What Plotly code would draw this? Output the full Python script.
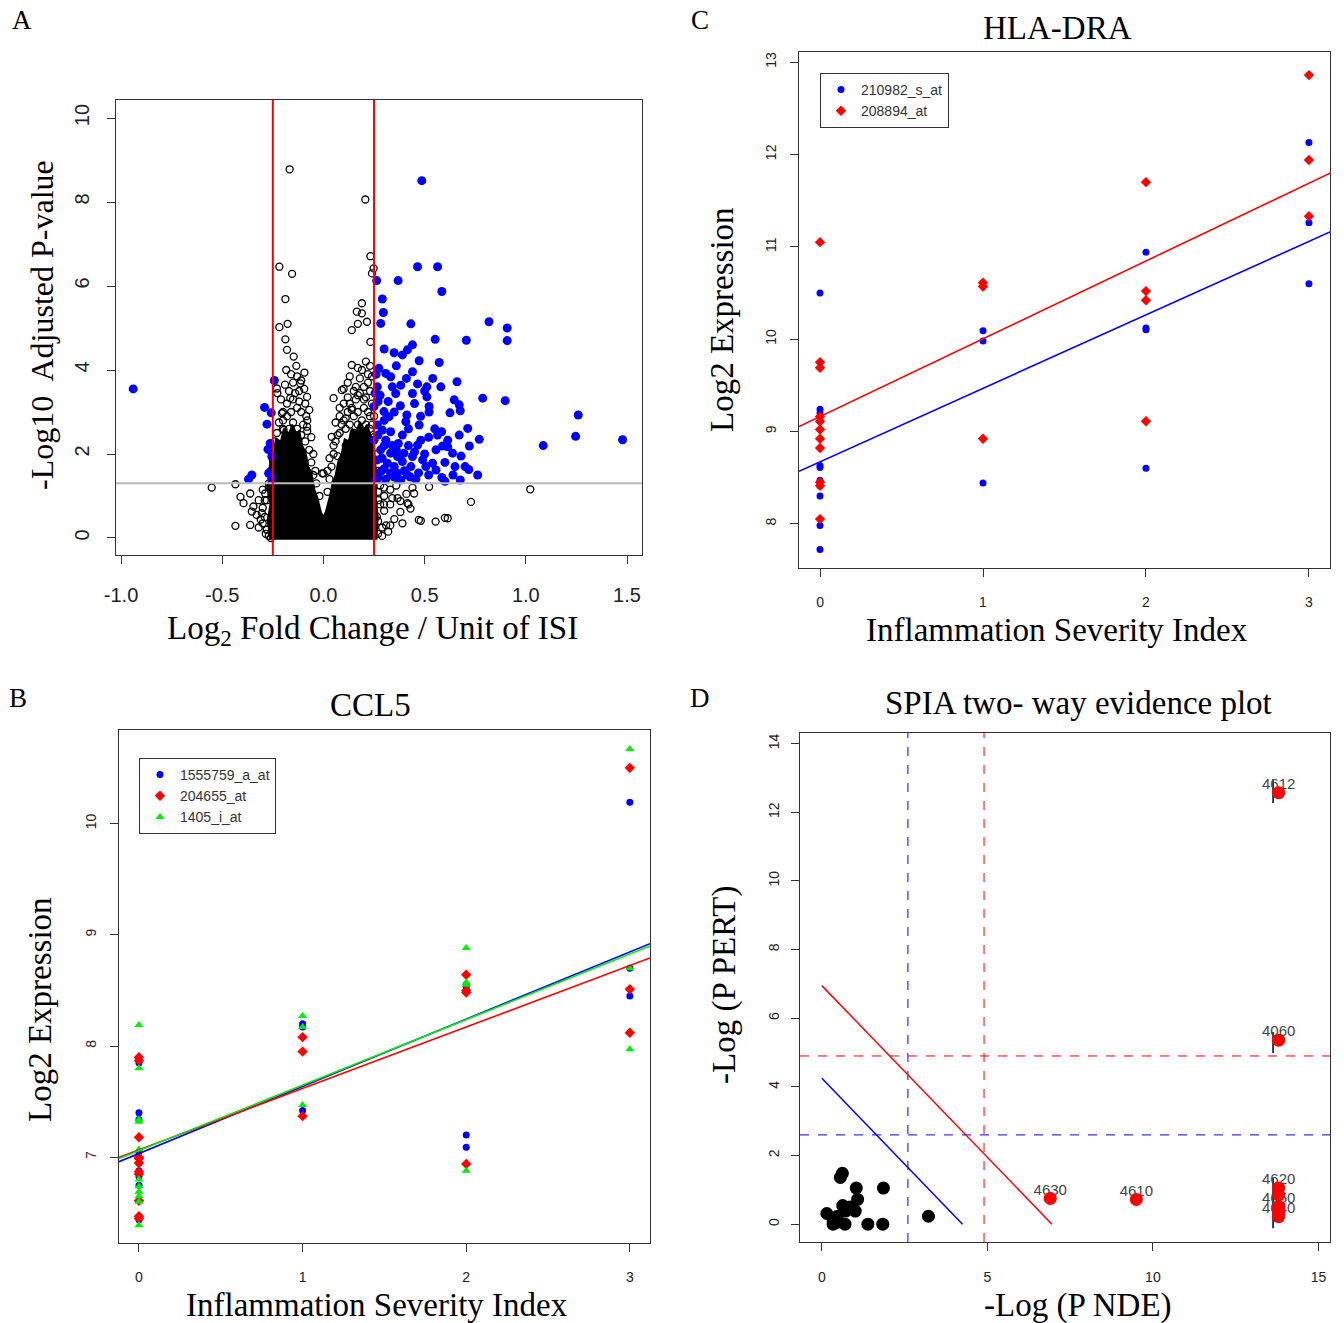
import plotly.graph_objects as go

W, H = 1344, 1323

# ---------------- Panel A: volcano ----------------
volc_sig = [
    (-0.94, 3.55),
    (-0.243, 3.75), (-0.291, 3.11), (-0.258, 2.98), (-0.279, 2.71), (-0.263, 2.25), (-0.274, 2.11),
    (-0.255, 1.94), (-0.354, 1.5), (-0.37, 1.4), (-0.271, 1.54), (-0.255, 1.42),
    (0.486, 8.51),
    (0.465, 6.46), (0.564, 6.46), (0.369, 6.13), (0.263, 6.13), (0.585, 5.87), (0.291, 5.69), (0.296, 5.37),
    (0.283, 5.11), (0.432, 5.1), (0.818, 5.15), (0.908, 5.0), (0.908, 4.7), (0.706, 4.71), (0.552, 4.73),
    (0.44, 4.6), (0.349, 4.41), (0.39, 4.36), (0.415, 4.48), (0.473, 4.22), (0.572, 4.18),
    (0.274, 4.04), (0.308, 3.92), (0.332, 3.84), (0.44, 3.96), (0.66, 3.72), (0.266, 3.6), (0.382, 3.64),
    (0.465, 3.67), (0.511, 3.6), (0.357, 3.44), (0.44, 3.44), (0.511, 3.36), (0.646, 3.29), (0.671, 3.17),
    (0.787, 3.33), (0.898, 3.27), (0.522, 3.13), (0.522, 3.0), (0.625, 2.98), (0.676, 3.03), (0.299, 3.01),
    (0.324, 2.89), (0.412, 2.93), (0.407, 2.77), (0.266, 2.69), (0.291, 2.57), (0.332, 2.53), (0.473, 2.69),
    (0.713, 2.61), (0.584, 2.53), (0.564, 2.45), (0.614, 2.33), (0.671, 2.45), (0.77, 2.35), (0.481, 2.33),
    (0.465, 2.21), (0.721, 2.19), (0.614, 2.17), (0.589, 2.19), (0.556, 2.1), (0.68, 1.95), (0.638, 2.02),
    (0.49, 1.86), (0.44, 1.94), (0.398, 2.02), (0.366, 1.94), (0.332, 2.02), (0.283, 2.1), (0.266, 1.86),
    (0.316, 1.78), (0.39, 1.82), (0.432, 1.7), (0.506, 1.7), (0.539, 1.78), (0.556, 1.62), (0.718, 1.63),
    (0.762, 1.5), (0.283, 1.58), (0.366, 1.54), (0.415, 1.5), (0.456, 1.4), (0.585, 1.44), (0.676, 1.38),
    (0.308, 1.4), (0.258, 1.38), (0.382, 1.38), (0.332, 1.54), (0.308, 2.33), (0.25, 2.33), (0.25, 3.13),
    (0.26, 3.9), (0.37, 2.25), (0.42, 2.2), (0.34, 2.2), (0.39, 2.45), (0.27, 3.25), (0.255, 3.45),
    (0.28, 3.4), (1.259, 2.93), (1.246, 2.42), (1.478, 2.34), (1.086, 2.2),
    (0.27, 1.45), (0.3, 1.65), (0.35, 1.7), (0.4, 1.6), (0.29, 1.9), (0.35, 1.45), (0.43, 1.45),
    (0.47, 1.55), (0.3, 2.2), (0.36, 2.1), (0.45, 2.05), (0.5, 2.0), (0.52, 1.5), (0.27, 2.45),
    (0.3, 2.8), (0.35, 3.0), (0.32, 3.25), (0.38, 3.15), (0.45, 3.2), (0.48, 2.9), (0.42, 2.6),
    (0.52, 2.4), (0.55, 2.6), (0.6, 1.8), (0.65, 1.7), (0.64, 1.5), (0.7, 1.7), (0.5, 3.5),
    (0.54, 3.8), (0.58, 3.6), (0.41, 3.8), (0.36, 4.1), (0.3, 4.5), (0.34, 3.6), (0.6, 1.35),
]
volc_ns = [
    (-0.167, 8.78), (-0.218, 6.46), (-0.155, 6.29), (-0.188, 5.69), (-0.177, 5.1), (-0.218, 5.02),
    (-0.188, 4.73), (-0.18, 4.48), (-0.147, 4.32), (-0.184, 4.0), (-0.134, 4.1), (-0.094, 3.94),
    (-0.23, 3.56), (-0.228, 3.45), (-0.164, 3.33), (-0.114, 3.68), (-0.081, 3.36), (-0.205, 2.97),
    (-0.18, 2.9), (-0.085, 2.9), (-0.081, 2.65), (-0.197, 2.57), (-0.188, 2.25), (-0.213, 1.74),
    (-0.006, 1.54), (-0.552, 1.2), (-0.435, 1.28), (-0.41, 0.98), (-0.362, 1.06), (-0.395, 0.83),
    (-0.346, 0.75), (-0.354, 0.63), (-0.30, 0.72), (-0.304, 0.59), (-0.31, 0.44), (-0.435, 0.29),
    (-0.362, 0.31), (-0.288, 1.06), (-0.28, 0.2), (-0.27, 0.05),
    (-0.32, 0.9), (-0.33, 0.55), (-0.3, 0.35), (-0.29, 0.9), (-0.32, 0.25), (-0.27, 1.2), (-0.3, 1.15),
    (-0.285, 0.1),
    (0.207, 8.06), (0.232, 6.71), (0.248, 6.42), (0.24, 6.3), (0.19, 5.59), (0.165, 5.39), (0.19, 5.35),
    (0.215, 5.15), (0.17, 5.1), (0.14, 4.95), (0.232, 4.67), (0.14, 4.12), (0.19, 4.0), (0.23, 4.1),
    (0.091, 3.52), (0.05, 3.33), (0.12, 3.7), (0.1, 3.2), (0.14, 3.05), (0.08, 2.9), (0.11, 2.6),
    (0.041, 2.41), (0.0, 1.54), (0.17, 3.4), (0.21, 3.35), (0.23, 2.9), (0.23, 2.3),
    (0.471, 0.43), (0.554, 0.39), (0.6, 0.48), (0.264, 0.51), (0.3, 0.8), (0.34, 0.95), (0.38, 0.88),
    (0.41, 1.05), (0.44, 1.2), (0.31, 0.3), (0.35, 0.45), (0.38, 0.62), (0.42, 0.8), (0.729, 0.86),
    (0.481, 0.41), (0.614, 0.47), (0.522, 1.22), (0.448, 1.06), (0.415, 0.83), (0.366, 0.95),
    (0.33, 0.8), (0.39, 0.35), (0.33, 0.3), (0.43, 0.7), (0.3, 0.65), (1.022, 1.16),
    (0.3, 1.2), (0.28, 1.25), (0.33, 1.15), (0.36, 1.25), (0.27, 0.9), (0.29, 0.25), (0.32, 0.15),
    (0.29, 0.05), (0.3, 1.0),
    # left arm
    (-0.2, 3.0), (-0.18, 3.2), (-0.15, 3.3), (-0.13, 3.1), (-0.11, 3.0), (-0.17, 3.5), (-0.15, 3.7),
    (-0.12, 3.5), (-0.09, 3.2), (-0.08, 2.8), (-0.06, 2.4), (-0.05, 2.0), (-0.04, 1.6), (-0.2, 2.6),
    (-0.23, 2.5), (-0.24, 2.1), (-0.25, 1.7), (-0.27, 1.3), (-0.28, 0.9), (-0.29, 0.5), (-0.28, 0.2),
    (-0.26, 0.0), (-0.035, 1.3), (-0.02, 1.0),
    (-0.21, 2.2), (-0.19, 2.35), (-0.17, 2.6), (-0.15, 2.75), (-0.13, 2.6), (-0.11, 2.45), (-0.09, 2.3),
    (-0.07, 2.1), (-0.16, 3.0), (-0.14, 3.45), (-0.12, 3.25), (-0.1, 2.7), (-0.095, 3.55), (-0.13, 3.85),
    (-0.11, 3.75), (-0.16, 3.9), (-0.19, 3.65), (-0.21, 3.3), (-0.2, 2.8), (-0.17, 2.2), (-0.12, 2.1),
    (-0.06, 1.8), (-0.05, 1.5), (-0.24, 2.3), (-0.25, 2.0), (-0.26, 1.6), (-0.14, 2.0), (-0.18, 2.05),
    (-0.22, 2.75), (-0.14, 2.25), (-0.08, 2.55), (-0.1, 1.9), (-0.07, 3.05),
    # right arm
    (0.05, 2.0), (0.04, 1.7), (0.08, 2.5), (0.1, 2.8), (0.12, 3.0), (0.14, 3.1), (0.16, 3.3), (0.2, 3.1),
    (0.22, 3.0), (0.24, 2.7), (0.26, 2.0), (0.27, 1.6), (0.27, 1.1), (0.28, 0.8), (0.27, 0.4),
    (0.27, 0.1), (0.2, 3.6), (0.18, 3.8), (0.22, 3.9), (0.23, 3.5), (0.15, 3.5), (0.13, 3.2),
    (0.06, 2.3), (0.03, 1.4), (0.02, 1.1),
    (0.05, 2.2), (0.07, 2.45), (0.09, 2.7), (0.11, 2.85), (0.13, 2.7), (0.15, 2.9), (0.17, 3.0),
    (0.19, 2.8), (0.21, 2.7), (0.23, 2.6), (0.06, 2.75), (0.08, 3.1), (0.12, 3.35), (0.16, 3.6),
    (0.18, 3.45), (0.2, 3.3), (0.22, 3.7), (0.24, 3.2), (0.1, 3.55), (0.13, 3.85), (0.17, 4.05),
    (0.24, 3.85), (0.21, 4.2), (0.15, 2.5), (0.19, 2.4), (0.03, 1.9), (0.02, 1.6), (0.25, 2.9),
    (0.25, 2.4), (0.11, 2.2), (0.07, 1.95), (0.17, 2.7),
]
# outline of the solid, over-plotted black core of the volcano (ragged edge)
core_x = [-0.262, -0.275, -0.262, -0.278, -0.26, -0.265, -0.24, -0.235, -0.21, -0.195, -0.17, -0.155,
          -0.135, -0.12, -0.105, -0.09, -0.075, -0.06, -0.045, -0.03, -0.012, 0.0, 0.012, 0.03, 0.045,
          0.06, 0.075, 0.09, 0.105, 0.125, 0.14, 0.16, 0.18, 0.2, 0.215, 0.235, 0.25, 0.255, 0.265,
          0.258, 0.268, 0.262]
core_y = [-0.04, 0.4, 0.8, 1.2, 1.55, 1.9, 2.05, 2.35, 2.3, 2.6, 2.45, 2.7,
          2.5, 2.55, 2.2, 2.05, 1.7, 1.55, 1.15, 0.95, 0.6, 0.5, 0.62, 0.95, 1.3,
          1.5, 1.85, 2.0, 2.35, 2.3, 2.6, 2.5, 2.75, 2.55, 2.7, 2.4, 2.2, 1.8, 1.4,
          1.0, 0.5, -0.04]
fc_cut = 0.25
p_cut = 1.301
a_xrange = [-1.025, 1.574]
a_yrange = [-0.405, 10.43]

# ---------------- Panel C: HLA-DRA ----------------
c_blue_x = [0]*11 + [1]*3 + [2]*4 + [3]*3
c_blue_y = [10.5, 9.24, 9.2, 9.11, 8.63, 8.61, 8.47, 8.41, 8.3, 7.98, 7.72,
            10.09, 9.98, 8.44, 10.94, 10.12, 10.1, 8.6, 12.13, 11.26, 10.6]
c_red_x = [0]*11 + [1]*3 + [2]*4 + [3]*3
c_red_y = [11.05, 9.75, 9.69, 9.16, 9.11, 9.02, 8.92, 8.82, 8.45, 8.41, 8.05,
           10.61, 10.57, 8.92, 11.7, 10.52, 10.42, 9.11, 12.86, 11.94, 11.33]
c_fit = {"210982_s_at": (8.67, 0.796), "208894_at": (9.16, 0.843)}
c_xrange = [-0.129, 3.129]
c_yrange = [7.52, 13.11]

# ---------------- Panel B: CCL5 ----------------
b_x = [0]*11 + [1]*3 + [2]*4 + [3]*3
b_blue_y = [7.87, 7.85, 7.4, 7.34, 7.05, 6.95, 6.88, 6.86, 6.83, 6.75, 6.44,
            8.2, 8.17, 7.42, 8.55, 8.53, 7.2, 7.09, 10.19, 8.7, 8.45]
b_red_y = [7.90, 7.87, 7.18, 7.0, 6.99, 6.95, 6.87, 6.85, 6.61, 6.47, 6.45,
           8.08, 7.95, 7.37, 8.64, 8.5, 8.48, 6.94, 10.5, 8.51, 8.12]
b_green_y = [8.19, 7.8, 7.34, 7.32, 7.07, 6.8, 6.74, 6.69, 6.65, 6.6, 6.39,
             8.27, 8.17, 7.47, 8.88, 8.57, 8.55, 6.88, 10.67, 8.70, 7.97]
b_fit = {"1555759_a_at": (7.034, 0.604), "204655_at": (7.067, 0.552), "1405_i_at": (7.06, 0.589)}
b_xrange = [-0.122, 3.123]
b_yrange = [6.23, 10.84]

# ---------------- Panel D: SPIA ----------------
d_black_x = [0.15, 0.34, 0.47, 0.56, 0.62, 0.63, 0.72, 0.7, 0.34, 1.01, 1.04, 1.08, 1.39, 1.84, 1.86, 3.22, 0.45, 0.85]
d_black_y = [0.31, 0.13, 0.23, 1.36, 1.48, 0.54, 0.38, 0.0, 0.0, 0.38, 1.05, 0.72, 0.0, 0.0, 1.05, 0.23, 0.05, 0.5]
d_red_x = [13.8, 13.8, 6.9, 9.5, 13.8, 13.8, 13.8, 13.8, 13.8]
d_red_y = [12.57, 5.36, 0.75, 0.72, 1.05, 0.85, 0.52, 0.35, 0.22]
d_lab_x = [13.8, 13.8, 6.9, 9.5, 13.8, 13.8, 13.8]
d_lab_y = [12.57, 5.36, 0.75, 0.72, 1.05, 0.52, 0.22]
d_lab = ["4612", "4060", "4630", "4610", "4620", "4650", "4640"]
d_stem_x = 13.63
d_stems = [(12.27, 12.96), (4.99, 5.6), (-0.12, 1.36)]
d_thr_red = 4.9     # -log threshold (red dashed)
d_thr_blue = 2.6    # -log threshold (blue dashed)
d_comb_red = 6.95   # combined-evidence line intercept
d_comb_blue = 4.25
d_xrange = [-0.66, 15.35]
d_yrange = [-0.52, 14.31]

BLUE, RED, GREEN = "#0000FF", "#FF0000", "#00EE00"
SERIF = "Liberation Serif"
SANS = "Liberation Sans"

fig = go.Figure()

# ---- A traces ----
fig.add_trace(go.Scatter(x=core_x, y=core_y, mode="lines", fill="toself", fillcolor="black",
                         line=dict(color="black", width=2), xaxis="x", yaxis="y", showlegend=False,
                         hoverinfo="skip"))
fig.add_trace(go.Scatter(x=[p[0] for p in volc_ns], y=[p[1] for p in volc_ns], mode="markers",
                         marker=dict(symbol="circle-open", size=7, color="black", line=dict(width=1.3)),
                         xaxis="x", yaxis="y", showlegend=False))
fig.add_trace(go.Scatter(x=[p[0] for p in volc_sig], y=[p[1] for p in volc_sig], mode="markers",
                         marker=dict(symbol="circle", size=9, color=BLUE),
                         xaxis="x", yaxis="y", showlegend=False))
fig.add_trace(go.Scatter(x=a_xrange, y=[p_cut, p_cut], mode="lines", line=dict(color="#BBBBBB", width=2),
                         xaxis="x", yaxis="y", showlegend=False))
fig.add_trace(go.Scatter(x=[-fc_cut, -fc_cut, None, fc_cut, fc_cut],
                         y=[a_yrange[0], a_yrange[1], None, a_yrange[0], a_yrange[1]], mode="lines",
                         line=dict(color=RED, width=2), xaxis="x", yaxis="y", showlegend=False))

# ---- C traces ----
fig.add_trace(go.Scatter(x=c_blue_x, y=c_blue_y, mode="markers", name="210982_s_at",
                         marker=dict(symbol="circle", size=7, color=BLUE), xaxis="x2", yaxis="y2",
                         legend="legend"))
fig.add_trace(go.Scatter(x=c_red_x, y=c_red_y, mode="markers", name="208894_at",
                         marker=dict(symbol="diamond", size=8, color=RED), xaxis="x2", yaxis="y2",
                         legend="legend"))
for (name, (b0, b1)), col in zip(c_fit.items(), [BLUE, RED]):
    fig.add_trace(go.Scatter(x=c_xrange, y=[b0 + b1 * v for v in c_xrange], mode="lines",
                             line=dict(color=col, width=1.6), xaxis="x2", yaxis="y2", showlegend=False))

# ---- B traces ----
fig.add_trace(go.Scatter(x=b_x, y=b_blue_y, mode="markers", name="1555759_a_at",
                         marker=dict(symbol="circle", size=7, color=BLUE), xaxis="x3", yaxis="y3",
                         legend="legend2"))
fig.add_trace(go.Scatter(x=b_x, y=b_red_y, mode="markers", name="204655_at",
                         marker=dict(symbol="diamond", size=8, color=RED), xaxis="x3", yaxis="y3",
                         legend="legend2"))
fig.add_trace(go.Scatter(x=b_x, y=b_green_y, mode="markers", name="1405_i_at",
                         marker=dict(symbol="triangle-up", size=8, color=GREEN), xaxis="x3", yaxis="y3",
                         legend="legend2"))
for (name, (b0, b1)), col in zip(b_fit.items(), [BLUE, RED, GREEN]):
    fig.add_trace(go.Scatter(x=b_xrange, y=[b0 + b1 * v for v in b_xrange], mode="lines",
                             line=dict(color=col, width=1.6), xaxis="x3", yaxis="y3", showlegend=False))

# ---- D traces ----
fig.add_trace(go.Scatter(x=[d_thr_blue, d_thr_blue], y=[d_yrange[0], d_yrange[1]],
                         mode="lines", line=dict(color=BLUE, width=1, dash="dash"),
                         xaxis="x4", yaxis="y4", showlegend=False))
fig.add_trace(go.Scatter(x=[d_thr_red, d_thr_red], y=[d_yrange[0], d_yrange[1]],
                         mode="lines", line=dict(color=RED, width=1, dash="dash"),
                         xaxis="x4", yaxis="y4", showlegend=False))
fig.add_trace(go.Scatter(x=[d_xrange[0], d_xrange[1]], y=[d_thr_blue, d_thr_blue],
                         mode="lines", line=dict(color=BLUE, width=1, dash="dash"),
                         xaxis="x4", yaxis="y4", showlegend=False))
fig.add_trace(go.Scatter(x=[d_xrange[0], d_xrange[1]], y=[d_thr_red, d_thr_red],
                         mode="lines", line=dict(color=RED, width=1, dash="dash"),
                         xaxis="x4", yaxis="y4", showlegend=False))
fig.add_trace(go.Scatter(x=[0, d_comb_red], y=[d_comb_red, 0], mode="lines",
                         line=dict(color=RED, width=1.5), xaxis="x4", yaxis="y4", showlegend=False))
fig.add_trace(go.Scatter(x=[0, d_comb_blue], y=[d_comb_blue, 0], mode="lines",
                         line=dict(color=BLUE, width=1.5), xaxis="x4", yaxis="y4", showlegend=False))
sx, sy = [], []
for lo, hi in d_stems:
    sx += [d_stem_x, d_stem_x, None]
    sy += [lo, hi, None]
fig.add_trace(go.Scatter(x=sx, y=sy, mode="lines", line=dict(color="black", width=1.5),
                         xaxis="x4", yaxis="y4", showlegend=False))
fig.add_trace(go.Scatter(x=d_lab_x, y=d_lab_y, mode="text", text=d_lab, textposition="top center",
                         textfont=dict(family=SANS, size=15, color="#444"),
                         xaxis="x4", yaxis="y4", showlegend=False))
fig.add_trace(go.Scatter(x=d_black_x, y=d_black_y, mode="markers",
                         marker=dict(symbol="circle", size=13, color="black"),
                         xaxis="x4", yaxis="y4", showlegend=False))
fig.add_trace(go.Scatter(x=d_red_x, y=d_red_y, mode="markers",
                         marker=dict(symbol="circle", size=13, color=RED),
                         xaxis="x4", yaxis="y4", showlegend=False))


def axis(domain, rng, tickvals, ticktext, fsize, standoff, anchor, angle=0):
    return dict(domain=domain, range=rng, tickvals=tickvals, ticktext=ticktext,
                showline=True, mirror=True, linecolor="#333", linewidth=1,
                ticks="outside", ticklen=8, tickcolor="#333", tickwidth=1,
                showgrid=False, zeroline=False, anchor=anchor, tickangle=angle,
                ticklabelstandoff=standoff, automargin=False,
                tickfont=dict(family=SANS, size=fsize, color="#222"))


def dx(a, b):
    return [a / W, b / W]


def dy(top, bottom):
    return [1 - bottom / H, 1 - top / H]


layout = dict(
    width=W, height=H, margin=dict(l=0, r=0, t=0, b=0, autoexpand=False),
    paper_bgcolor="white", plot_bgcolor="white",
    xaxis=axis(dx(116, 642), a_xrange, [-1, -0.5, 0, 0.5, 1, 1.5],
               ["-1.0", "-0.5", "0.0", "0.5", "1.0", "1.5"], 20, 14, "y"),
    yaxis=axis(dy(100, 555), a_yrange, [0, 2, 4, 6, 8, 10], ["0", "2", "4", "6", "8", "10"], 20, 10, "x", -90),
    xaxis2=axis(dx(799, 1330), c_xrange, [0, 1, 2, 3], ["0", "1", "2", "3"], 14, 13, "y2"),
    yaxis2=axis(dy(52, 568), c_yrange, [8, 9, 10, 11, 12, 13], ["8", "9", "10", "11", "12", "13"], 14, 8, "x2", -90),
    xaxis3=axis(dx(119, 650), b_xrange, [0, 1, 2, 3], ["0", "1", "2", "3"], 14, 13, "y3"),
    yaxis3=axis(dy(730, 1243), b_yrange, [7, 8, 9, 10], ["7", "8", "9", "10"], 14, 8, "x3", -90),
    xaxis4=axis(dx(800, 1330), d_xrange, [0, 5, 10, 15], ["0", "5", "10", "15"], 14, 14, "y4"),
    yaxis4=axis(dy(733, 1242), d_yrange, [0, 2, 4, 6, 8, 10, 12, 14],
                ["0", "2", "4", "6", "8", "10", "12", "14"], 14, 6, "x4", -90),
    legend=dict(x=820 / W, y=1 - 73 / H, xanchor="left", yanchor="top", bordercolor="#333", borderwidth=1,
                bgcolor="white", font=dict(family=SANS, size=14, color="#333"), itemwidth=30,
                tracegroupgap=0),
    legend2=dict(x=139 / W, y=1 - 758 / H, xanchor="left", yanchor="top", bordercolor="#333", borderwidth=1,
                 bgcolor="white", font=dict(family=SANS, size=14, color="#333"), itemwidth=30,
                 tracegroupgap=0),
)
fig.update_layout(**layout)


def note(text, x, y, size, rot=0, family=SERIF):
    fig.add_annotation(text=text, x=x / W, y=1 - y / H, xref="paper", yref="paper", showarrow=False,
                       textangle=rot, xanchor="center", yanchor="middle",
                       font=dict(family=family, size=size, color="black"))


note("A", 22, 20, 27)
note("C", 700, 20, 27)
note("B", 18, 698, 27)
note("D", 700, 698, 27)
note("-Log10  Adjusted P-value", 42, 325, 32, -90)
note("Log<sub>2</sub> Fold Change / Unit of ISI", 372, 630, 33)
note("HLA-DRA", 1057, 28, 33)
note("Log2 Expression", 722, 320, 33, -90)
note("Inflammation Severity Index", 1057, 630, 33)
note("CCL5", 370, 705, 33)
note("Log2 Expression", 40, 1010, 33, -90)
note("Inflammation Severity Index", 377, 1305, 33)
note("SPIA two- way evidence plot", 1078, 703, 33)
note("-Log (P PERT)", 725, 985, 33, -90)
note("-Log (P NDE)", 1078, 1305, 33)

fig.write_html("out.html", config={"displayModeBar": False},
               post_script="document.body.style.margin='0';document.body.style.overflow='hidden';")
